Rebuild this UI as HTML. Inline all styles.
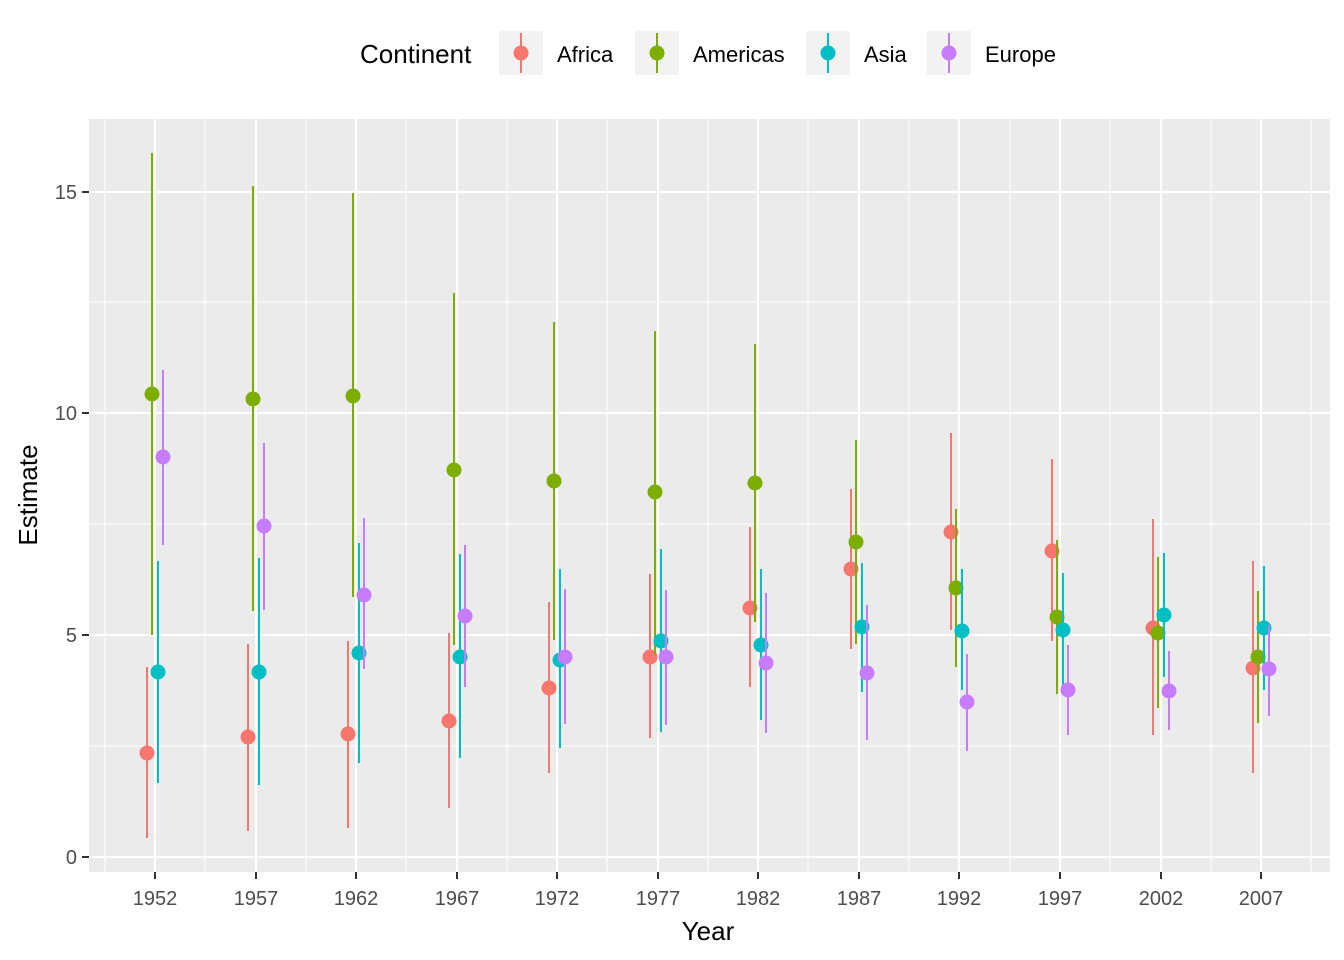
<!DOCTYPE html>
<html><head><meta charset="utf-8"><style>body{margin:0;background:#fff}svg{display:block}</style></head><body>
<svg width="1344" height="960" xmlns="http://www.w3.org/2000/svg" font-family="Liberation Sans, Arial, sans-serif">
<rect width="1344" height="960" fill="#fff"/>
<rect x="89" y="119" width="1241" height="753" fill="#EBEBEB"/>
<g stroke="#fff" stroke-width="1">
<line x1="89" x2="1330" y1="746" y2="746"/><line x1="89" x2="1330" y1="524" y2="524"/><line x1="89" x2="1330" y1="302" y2="302"/>
<line x1="205" x2="205" y1="119" y2="872"/><line x1="306" x2="306" y1="119" y2="872"/><line x1="406" x2="406" y1="119" y2="872"/><line x1="507" x2="507" y1="119" y2="872"/><line x1="607" x2="607" y1="119" y2="872"/><line x1="708" x2="708" y1="119" y2="872"/><line x1="808" x2="808" y1="119" y2="872"/><line x1="909" x2="909" y1="119" y2="872"/><line x1="1010" x2="1010" y1="119" y2="872"/><line x1="1110" x2="1110" y1="119" y2="872"/><line x1="1211" x2="1211" y1="119" y2="872"/><line x1="105" x2="105" y1="119" y2="872"/><line x1="1311" x2="1311" y1="119" y2="872"/>
</g>
<g stroke="#fff" stroke-width="2">
<line x1="89" x2="1330" y1="857" y2="857"/><line x1="89" x2="1330" y1="635" y2="635"/><line x1="89" x2="1330" y1="413" y2="413"/><line x1="89" x2="1330" y1="192" y2="192"/>
<line x1="155" x2="155" y1="119" y2="872"/><line x1="256" x2="256" y1="119" y2="872"/><line x1="356" x2="356" y1="119" y2="872"/><line x1="457" x2="457" y1="119" y2="872"/><line x1="557" x2="557" y1="119" y2="872"/><line x1="658" x2="658" y1="119" y2="872"/><line x1="758" x2="758" y1="119" y2="872"/><line x1="859" x2="859" y1="119" y2="872"/><line x1="959" x2="959" y1="119" y2="872"/><line x1="1060" x2="1060" y1="119" y2="872"/><line x1="1161" x2="1161" y1="119" y2="872"/><line x1="1261" x2="1261" y1="119" y2="872"/>
</g>
<!-- Africa -->
<g stroke="#F8766D" stroke-width="2">
<line x1="147" x2="147" y1="667" y2="838"/><line x1="248" x2="248" y1="644" y2="831"/><line x1="348" x2="348" y1="641" y2="828"/><line x1="449" x2="449" y1="633" y2="808"/><line x1="549" x2="549" y1="602" y2="773"/><line x1="650" x2="650" y1="574" y2="738"/><line x1="750" x2="750" y1="527" y2="687"/><line x1="851" x2="851" y1="489" y2="649"/><line x1="951" x2="951" y1="433" y2="630"/><line x1="1052" x2="1052" y1="459" y2="641"/><line x1="1153" x2="1153" y1="519" y2="735"/><line x1="1253" x2="1253" y1="561" y2="773"/>
</g>
<g fill="#F8766D">
<circle cx="147" cy="753" r="7.5"/><circle cx="248" cy="737" r="7.5"/><circle cx="348" cy="734" r="7.5"/><circle cx="449" cy="721" r="7.5"/><circle cx="549" cy="688" r="7.5"/><circle cx="650" cy="657" r="7.5"/><circle cx="750" cy="608" r="7.5"/><circle cx="851" cy="569" r="7.5"/><circle cx="951" cy="532" r="7.5"/><circle cx="1052" cy="551" r="7.5"/><circle cx="1153" cy="628" r="7.5"/><circle cx="1253" cy="668" r="7.5"/>
</g>
<!-- Americas -->
<g stroke="#7CAE00" stroke-width="2">
<line x1="152" x2="152" y1="153" y2="635"/><line x1="253" x2="253" y1="186" y2="611"/><line x1="353" x2="353" y1="193" y2="597"/><line x1="454" x2="454" y1="293" y2="645"/><line x1="554" x2="554" y1="322" y2="640"/><line x1="655" x2="655" y1="331" y2="654"/><line x1="755" x2="755" y1="344" y2="622"/><line x1="856" x2="856" y1="440" y2="644"/><line x1="956" x2="956" y1="509" y2="667"/><line x1="1057" x2="1057" y1="540" y2="694"/><line x1="1158" x2="1158" y1="557" y2="708"/><line x1="1258" x2="1258" y1="591" y2="723"/>
</g>
<g fill="#7CAE00">
<circle cx="152" cy="394" r="7.5"/><circle cx="253" cy="399" r="7.5"/><circle cx="353" cy="396" r="7.5"/><circle cx="454" cy="470" r="7.5"/><circle cx="554" cy="481" r="7.5"/><circle cx="655" cy="492" r="7.5"/><circle cx="755" cy="483" r="7.5"/><circle cx="856" cy="542" r="7.5"/><circle cx="956" cy="588" r="7.5"/><circle cx="1057" cy="617" r="7.5"/><circle cx="1158" cy="633" r="7.5"/><circle cx="1258" cy="657" r="7.5"/>
</g>
<!-- Asia -->
<g stroke="#00BFC4" stroke-width="2">
<line x1="158" x2="158" y1="561" y2="783"/><line x1="259" x2="259" y1="558" y2="785"/><line x1="359" x2="359" y1="543" y2="763"/><line x1="460" x2="460" y1="554" y2="758"/><line x1="560" x2="560" y1="569" y2="748"/><line x1="661" x2="661" y1="549" y2="732"/><line x1="761" x2="761" y1="569" y2="720"/><line x1="862" x2="862" y1="563" y2="692"/><line x1="962" x2="962" y1="569" y2="690"/><line x1="1063" x2="1063" y1="573" y2="688"/><line x1="1164" x2="1164" y1="553" y2="677"/><line x1="1264" x2="1264" y1="566" y2="690"/>
</g>
<g fill="#00BFC4">
<circle cx="158" cy="672" r="7.5"/><circle cx="259" cy="672" r="7.5"/><circle cx="359" cy="653" r="7.5"/><circle cx="460" cy="657" r="7.5"/><circle cx="560" cy="660" r="7.5"/><circle cx="661" cy="641" r="7.5"/><circle cx="761" cy="645" r="7.5"/><circle cx="862" cy="627" r="7.5"/><circle cx="962" cy="631" r="7.5"/><circle cx="1063" cy="630" r="7.5"/><circle cx="1164" cy="615" r="7.5"/><circle cx="1264" cy="628" r="7.5"/>
</g>
<!-- Europe -->
<g stroke="#C77CFF" stroke-width="2">
<line x1="163" x2="163" y1="370" y2="545"/><line x1="264" x2="264" y1="443" y2="610"/><line x1="364" x2="364" y1="518" y2="669"/><line x1="465" x2="465" y1="545" y2="687"/><line x1="565" x2="565" y1="589" y2="724"/><line x1="666" x2="666" y1="590" y2="725"/><line x1="766" x2="766" y1="593" y2="733"/><line x1="867" x2="867" y1="605" y2="740"/><line x1="967" x2="967" y1="654" y2="751"/><line x1="1068" x2="1068" y1="645" y2="735"/><line x1="1169" x2="1169" y1="651" y2="730"/><line x1="1269" x2="1269" y1="625" y2="716"/>
</g>
<g fill="#C77CFF">
<circle cx="163" cy="457" r="7.5"/><circle cx="264" cy="526" r="7.5"/><circle cx="364" cy="595" r="7.5"/><circle cx="465" cy="616" r="7.5"/><circle cx="565" cy="657" r="7.5"/><circle cx="666" cy="657" r="7.5"/><circle cx="766" cy="663" r="7.5"/><circle cx="867" cy="673" r="7.5"/><circle cx="967" cy="702" r="7.5"/><circle cx="1068" cy="690" r="7.5"/><circle cx="1169" cy="691" r="7.5"/><circle cx="1269" cy="669" r="7.5"/>
</g>
<g stroke="#333" stroke-width="2">
<line x1="82" x2="89" y1="857" y2="857"/><line x1="82" x2="89" y1="635" y2="635"/><line x1="82" x2="89" y1="413" y2="413"/><line x1="82" x2="89" y1="192" y2="192"/>
<line x1="155" x2="155" y1="872" y2="879"/><line x1="256" x2="256" y1="872" y2="879"/><line x1="356" x2="356" y1="872" y2="879"/><line x1="457" x2="457" y1="872" y2="879"/><line x1="557" x2="557" y1="872" y2="879"/><line x1="658" x2="658" y1="872" y2="879"/><line x1="758" x2="758" y1="872" y2="879"/><line x1="859" x2="859" y1="872" y2="879"/><line x1="959" x2="959" y1="872" y2="879"/><line x1="1060" x2="1060" y1="872" y2="879"/><line x1="1161" x2="1161" y1="872" y2="879"/><line x1="1261" x2="1261" y1="872" y2="879"/>
</g>
<g fill="#4D4D4D" font-size="20" text-anchor="end">
<text x="77" y="864">0</text><text x="77" y="642">5</text><text x="77" y="420">10</text><text x="77" y="199">15</text>
</g>
<g fill="#4D4D4D" font-size="20" text-anchor="middle">
<text x="155" y="905">1952</text><text x="256" y="905">1957</text><text x="356" y="905">1962</text><text x="457" y="905">1967</text><text x="557" y="905">1972</text><text x="658" y="905">1977</text><text x="758" y="905">1982</text><text x="859" y="905">1987</text><text x="959" y="905">1992</text><text x="1060" y="905">1997</text><text x="1161" y="905">2002</text><text x="1261" y="905">2007</text>
</g>
<text x="708" y="940" font-size="26" text-anchor="middle" fill="#000">Year</text>
<text transform="translate(37,495) rotate(-90)" font-size="26" text-anchor="middle" fill="#000">Estimate</text>
<text x="360" y="63" font-size="26" fill="#000">Continent</text>
<g>
<rect x="499" y="31" width="44" height="44" fill="#F2F2F2"/><line x1="521" x2="521" y1="33" y2="73" stroke="#F8766D" stroke-width="2"/><circle cx="521" cy="53" r="7.5" fill="#F8766D"/><text x="557" y="62" font-size="22">Africa</text>
<rect x="635" y="31" width="44" height="44" fill="#F2F2F2"/><line x1="657" x2="657" y1="33" y2="73" stroke="#7CAE00" stroke-width="2"/><circle cx="657" cy="53" r="7.5" fill="#7CAE00"/><text x="693" y="62" font-size="22">Americas</text>
<rect x="806" y="31" width="44" height="44" fill="#F2F2F2"/><line x1="828" x2="828" y1="33" y2="73" stroke="#00BFC4" stroke-width="2"/><circle cx="828" cy="53" r="7.5" fill="#00BFC4"/><text x="864" y="62" font-size="22">Asia</text>
<rect x="927" y="31" width="44" height="44" fill="#F2F2F2"/><line x1="949" x2="949" y1="33" y2="73" stroke="#C77CFF" stroke-width="2"/><circle cx="949" cy="53" r="7.5" fill="#C77CFF"/><text x="985" y="62" font-size="22">Europe</text>
</g>
</svg>
</body></html>
